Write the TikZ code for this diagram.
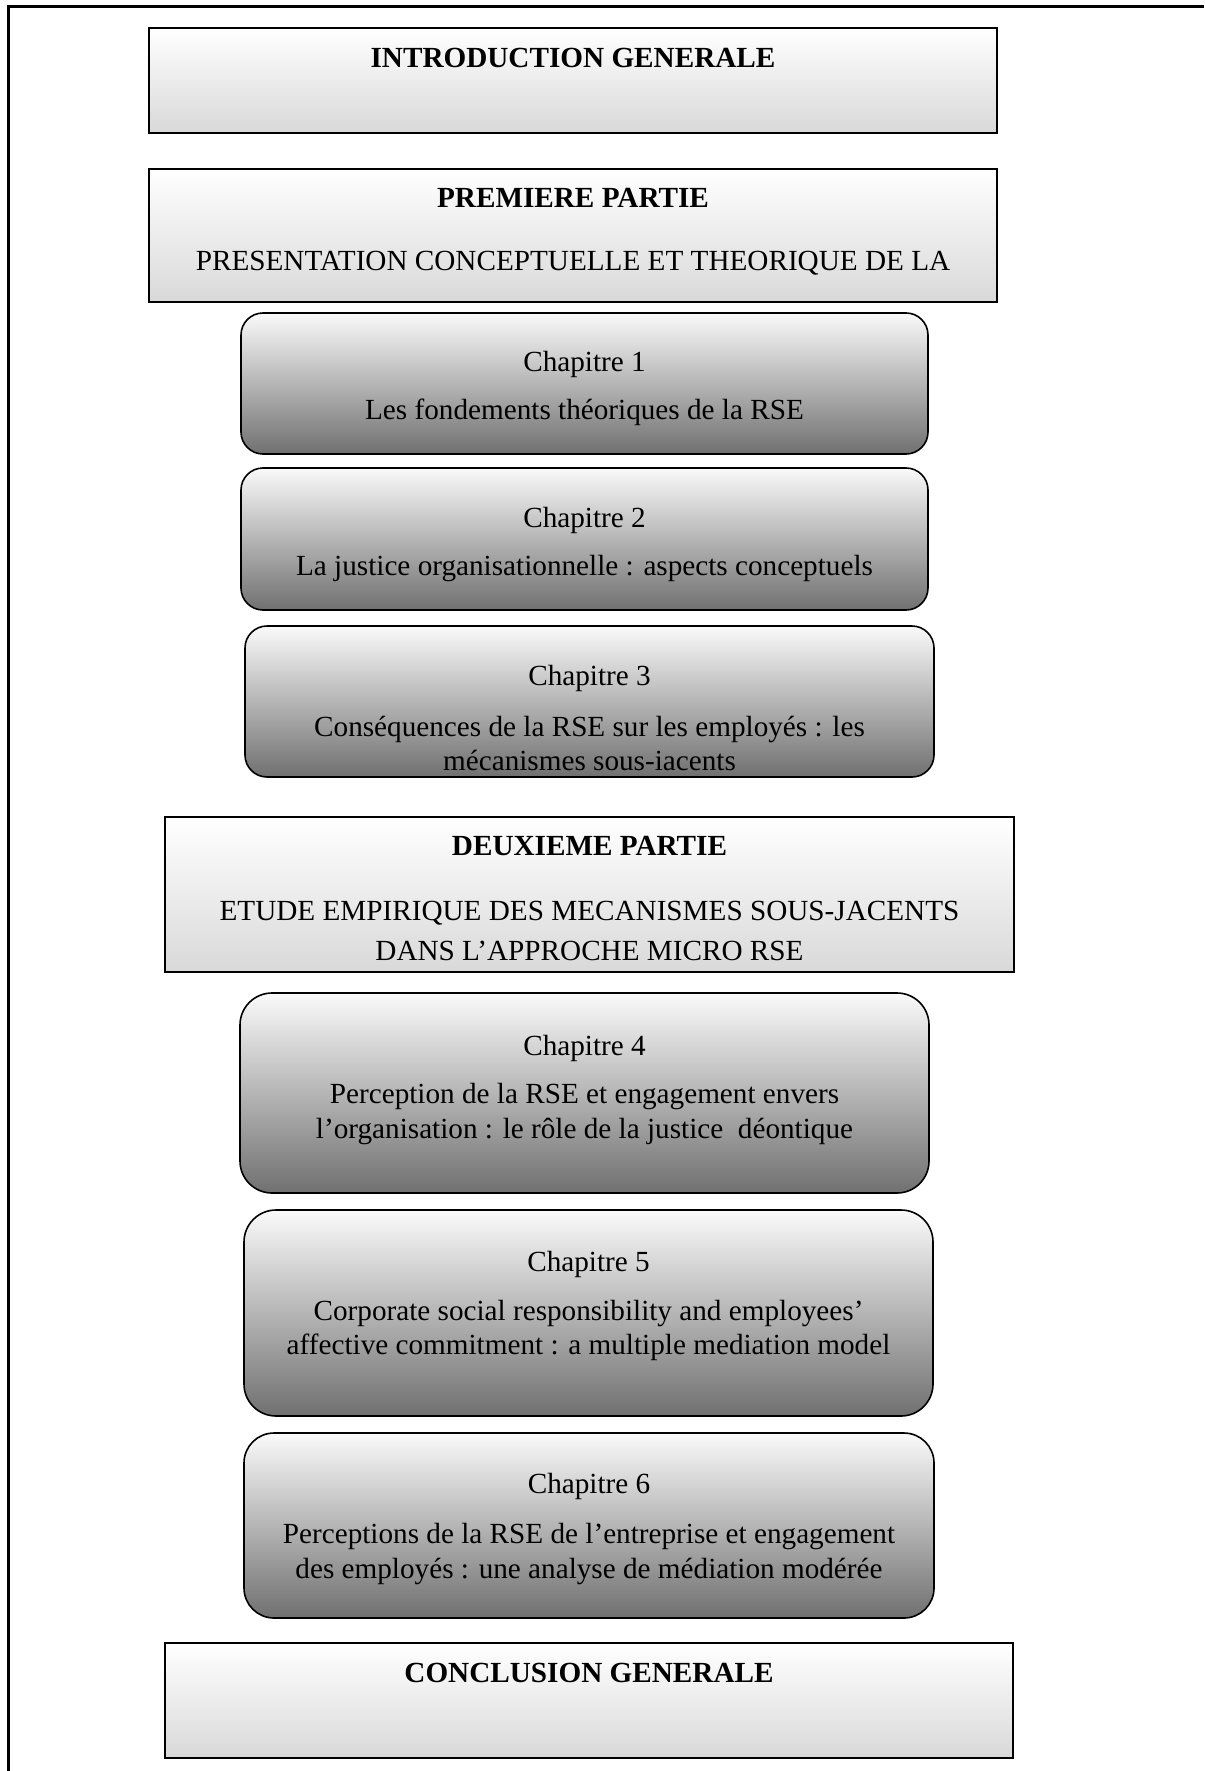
\documentclass[tikz,border=0pt]{standalone}
\usepackage{fontspec}
\setmainfont{Liberation Serif}
\usetikzlibrary{shadings}

\begin{document}
\begin{tikzpicture}[x=0.5pt,y=-0.5pt]
        \tikzstyle{part}=[rectangle,draw=black,line width=1pt,top color=white,bottom color=black!15]
        \tikzstyle{chap}=[rectangle,rounded corners=11pt,draw=black,line width=0.8pt,top color=white!98!black,middle color=black!20,bottom color=black!56]
        \tikzstyle{txt}=[inner sep=0pt,font=\fontsize{14.6}{17}\selectfont]
        \tikzstyle{ttl}=[inner sep=0pt,font=\fontsize{14.6}{17}\selectfont\bfseries]

        \useasboundingbox (0,0) rectangle (1204,1771);
        \draw[line width=1.5pt] (8,1771) -- (8,7) -- (1204,7);

        % parties
        \node [part,minimum width=424pt,minimum height=52.5pt] (intro) at (573,80.5) {};
        \node [part,minimum width=424pt,minimum height=66.5pt] (p1) at (573,235.5) {};
        \node [part,minimum width=424.5pt,minimum height=77.5pt] (p2) at (589.5,894.5) {};
        \node [part,minimum width=424pt,minimum height=57.5pt] (concl) at (589,1700.5) {};

        % chapitres
        \node [chap,minimum width=343.5pt,minimum height=70.5pt] (c1) at (584.5,383.5) {};
        \node [chap,minimum width=343.5pt,minimum height=71pt] (c2) at (584.5,539) {};
        \node [chap,minimum width=344.5pt,minimum height=75.5pt] (c3) at (589.5,701.5) {};
        \node [chap,rounded corners=16pt,minimum width=344.5pt,minimum height=100pt] (c4) at (584.5,1093) {};
        \node [chap,rounded corners=16pt,minimum width=344.5pt,minimum height=103pt] (c5) at (588.5,1313) {};
        \node [chap,rounded corners=15pt,minimum width=345pt,minimum height=92.5pt] (c6) at (589,1525.5) {};

        % textes
        \node [ttl] (introT) at (573,58) {INTRODUCTION GENERALE};
        \node [ttl] (p1T) at (573,198) {PREMIERE PARTIE};
        \node [txt] (p1a) at (573,263) {PRESENTATION CONCEPTUELLE ET THEORIQUE DE LA};

        \node [txt] (c1T) at (584.5,364) {Chapitre 1};
        \node [txt] (c1a) at (584.5,412) {Les fondements théoriques de la RSE};
        \node [txt] (c2T) at (584.5,520) {Chapitre 2};
        \node [txt] (c2a) at (584.5,569) {La justice organisationnelle : aspects conceptuels};
        \node [txt] (c3T) at (589.5,678) {Chapitre 3};
        \node [txt] (c3a) at (589.5,729) {Conséquences de la RSE sur les employés : les};
        \node [txt] (c3b) at (589.5,760) {mécanismes sous-iacents};

        \node [ttl] (p2T) at (589.5,846) {DEUXIEME PARTIE};
        \node [txt] (p2a) at (589.5,913) {ETUDE EMPIRIQUE DES MECANISMES SOUS-JACENTS};
        \node [txt] (p2b) at (589.5,951) {DANS L’APPROCHE MICRO RSE};

        \node [txt] (c4T) at (584.5,1048) {Chapitre 4};
        \node [txt] (c4a) at (584.5,1097) {Perception de la RSE et engagement envers};
        \node [txt] (c4b) at (584.5,1131) {l’organisation : le rôle de la justice\ \ déontique};
        \node [txt] (c5T) at (588.5,1264) {Chapitre 5};
        \node [txt] (c5a) at (588.5,1314) {Corporate social responsibility and employees’};
        \node [txt] (c5b) at (588.5,1347) {affective commitment : a multiple mediation model};
        \node [txt] (c6T) at (589,1486) {Chapitre 6};
        \node [txt] (c6a) at (589,1537) {Perceptions de la RSE de l’entreprise et engagement};
        \node [txt] (c6b) at (589,1571) {des employés : une analyse de médiation modérée};

        \node [ttl] (conclT) at (589,1673) {CONCLUSION GENERALE};
\end{tikzpicture}
\end{document}
